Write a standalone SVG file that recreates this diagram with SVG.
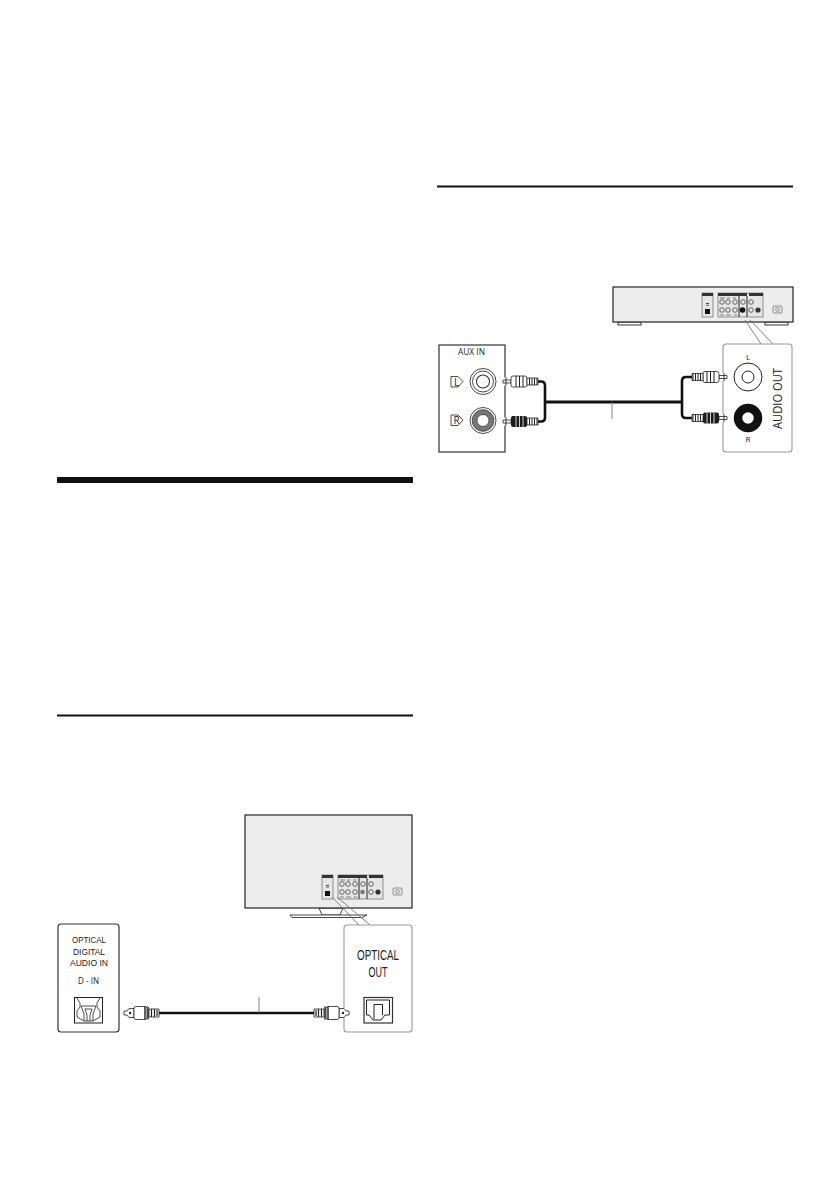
<svg xmlns="http://www.w3.org/2000/svg" xmlns:xlink="http://www.w3.org/1999/xlink" width="840" height="1192" viewBox="0 0 840 1192">
<style>
text{font-family:"Open Sans","Noto Sans","Liberation Sans",sans-serif;fill:#1a1a1a;text-anchor:middle;opacity:.99}
.box{fill:#fff;stroke:#333;stroke-width:1.2}
.gbox{fill:#fff;stroke:#999;stroke-width:1.1}
.body{fill:#ededed;stroke:#222;stroke-width:1.2}
.cable{fill:none;stroke:#111;stroke-width:2.6;stroke-linejoin:round}
.lead{fill:none;stroke:#777;stroke-width:.9}
.thin{fill:none;stroke:#222;stroke-width:.8}
.pl{fill:#fff;stroke:#222;stroke-width:.8}
.pan{fill:#e6e6e6;stroke:#555;stroke-width:.6}
.jack{fill:none;stroke:#444;stroke-width:.8}
.tight{font-family:"Liberation Sans","Open Sans",sans-serif}
</style>
<defs>
<g id="panels">
<rect class="pan" x="322" y="875" width="11" height="24"/>
<rect x="322" y="875" width="11" height="3" fill="#333"/>
<rect x="325" y="891" width="5" height="5" fill="#111"/>
<rect x="326" y="885" width="3" height="1.200" fill="#444"/>
<rect x="326" y="887" width="3" height="1" fill="#888"/>
<rect class="pan" x="338" y="875" width="45" height="24"/>
<rect x="338" y="875" width="29" height="3" fill="#333"/>
<rect x="369" y="875" width="14" height="3" fill="#333"/>
<g class="jack"><circle cx="342" cy="884" r="2.300"/><circle cx="348" cy="884" r="2.300"/><circle cx="355" cy="884" r="2.300"/><circle cx="342" cy="892" r="2.300"/><circle cx="348" cy="892" r="2.300"/><circle cx="355" cy="892" r="2.300"/><circle cx="363" cy="884" r="2.300"/><circle cx="371" cy="884" r="2.300"/><circle cx="371" cy="892" r="2.300"/></g>
<circle cx="378" cy="892" r="2.600" fill="#333"/>
<path d="M359 878V899M367 878V899" stroke="#111" stroke-width=".9"/>
<path d="M340 880H345M347 880H350M353 880H356M340 897H344M346 897H351M354 897H357" stroke="#555" stroke-width=".7"/>
<rect class="pan" x="393" y="888" width="9" height="7" rx="1"/>
<circle cx="397.500" cy="891.500" r="1.800" fill="none" stroke="#555" stroke-width=".6"/>
</g>
<g id="rca">
<rect x="-2" y="-4" width="7" height="8" fill="#fff"/>
<path class="pl" d="M0-1.500H8V1.500H0Z"/>
<path d="M3-4V4" stroke="#222" stroke-width=".9"/>
<rect class="pl" x="8" y="-5.500" width="16" height="11" rx="2"/>
<path d="M13-5.500V5.500M16.500-5.500V5.500M20-5.500V5.500" stroke="#222" stroke-width="1"/>
<path class="pl" d="M24-3.500H35V3.500H24Z"/>
<path d="M26.500-3.500V3.500M29-3.500V3.500M31.500-3.500V3.500M34-3.500V3.500" stroke="#222" stroke-width="1"/>
</g>
<g id="rcab">
<rect x="-2" y="-4" width="7" height="8" fill="#fff"/>
<path class="pl" d="M0-1.500H8V1.500H0Z"/>
<path d="M3-4V4" stroke="#222" stroke-width=".9"/>
<rect x="8" y="-5.500" width="16" height="11" rx="2" fill="#1c1c1c"/>
<path d="M13-5.500V5.500M16.500-5.500V5.500M20-5.500V5.500" stroke="#fff" stroke-width=".8"/>
<path class="pl" d="M24-3.500H35V3.500H24Z"/>
<path d="M26.500-3.500V3.500M29-3.500V3.500M31.500-3.500V3.500M34-3.500V3.500" stroke="#222" stroke-width="1"/>
</g>
<g id="optplug">
<rect x="-2" y="-5" width="9" height="10" fill="#fff"/>
<path class="pl" d="M0-2H3L5-4.500H10V4.500H5L3 2H0Z"/>
<circle cx="6" cy="0" r="1.200" fill="#222"/>
<rect class="pl" x="10" y="-6.500" width="13" height="13" rx="2"/>
<path d="M21-6.500V6.500M24-6.500V6.500" stroke="#222" stroke-width="1.400"/>
<path class="pl" d="M25-4H35V4H25Z"/>
<path d="M27.500-4V4M30.500-4V4M33-3V3" stroke="#222" stroke-width="1.200"/>
</g>
</defs>

<rect width="840" height="1192" fill="#fff"/>
<rect id="rule-heavy" x="57" y="477" width="356" height="6" fill="#111"/>
<rect id="rule-left" x="57" y="714.500" width="356" height="2" fill="#111"/>
<rect id="rule-right" x="437" y="185.500" width="356" height="2" fill="#111"/>

<g id="player">
<rect x="618" y="322" width="23" height="3" fill="#fff" stroke="#222" stroke-width=".9"/>
<rect x="765" y="322" width="23" height="3" fill="#fff" stroke="#222" stroke-width=".9"/>
<rect class="body" x="613" y="287" width="180" height="35"/>
<use href="#panels" xlink:href="#panels" transform="translate(380,-582)"/>
<circle cx="742.500" cy="310" r="2.800" fill="#111"/>
</g>

<g id="tv">
<path d="M319 908H343L340 915H322Z" fill="#fff" stroke="#333" stroke-width=".9"/>
<path d="M290 915H367L362 917.500H292Z" fill="#fff" stroke="#333" stroke-width=".9"/>
<rect class="body" x="245" y="815" width="167" height="93"/>
<use href="#panels" xlink:href="#panels"/>
<circle cx="362.500" cy="892" r="2.300" fill="#777"/>
</g>

<g id="connectors">
<path class="lead" d="M745 320 761 344M750 320 773 344"/>
<path class="lead" d="M332 897 359 925M337 897 370 925"/>
<path class="cable" style="stroke-width:3.200" d="M545 402H682"/>
<path class="cable" d="M537 381.500H541Q545 381.500 545 385.500V417.500Q545 421.500 541 421.500H537"/>
<path class="cable" d="M693 377H686Q682 377 682 381V414Q682 418 686 418H693"/>
<path class="lead" d="M612 402V419"/>
<path class="cable" d="M157 1013H316"/>
<path class="lead" d="M259 997V1013"/>
</g>

<g id="aux-in">
<rect class="box" x="439" y="345" width="66" height="107"/>
<text x="471.500" y="355" font-size="9" textLength="27" lengthAdjust="spacingAndGlyphs">AUX IN</text>
<path class="thin" d="M451 376.500H458L463 381.500L458 387H451Z"/>
<text x="456.500" y="385.500" font-size="10">L</text>
<circle cx="483" cy="381.500" r="13" fill="none" stroke="#333" stroke-width=".9"/>
<circle cx="483" cy="381.500" r="10.500" fill="none" stroke="#333" stroke-width=".9"/>
<circle cx="483" cy="381.500" r="6.500" fill="none" stroke="#333" stroke-width="1.100"/>
<path class="thin" d="M451 415H458L463 420L458 425.500H451Z"/>
<text x="456.500" y="424" font-size="10">R</text>
<circle cx="483" cy="420.500" r="13" fill="none" stroke="#333" stroke-width=".9"/>
<circle cx="483" cy="420.500" r="8.500" fill="none" stroke="#777" stroke-width="4.500"/>
<circle cx="483" cy="420.500" r="10.800" fill="none" stroke="#333" stroke-width=".8"/>
<circle cx="483" cy="420.500" r="6" fill="#fff" stroke="#333" stroke-width=".9"/>
<use href="#rca" xlink:href="#rca" transform="translate(503,381.500)"/>
<use href="#rcab" xlink:href="#rcab" transform="translate(503,421.500)"/>
</g>

<g id="audio-out">
<rect class="gbox" x="723" y="344" width="69" height="108" rx="3"/>
<text x="748" y="360" font-size="8">L</text>
<text x="748" y="442" font-size="8">R</text>
<text transform="translate(782,398.500) rotate(-90)" font-size="13.500" textLength="61" lengthAdjust="spacingAndGlyphs">AUDIO OUT</text>
<circle cx="748" cy="377" r="14" fill="none" stroke="#222" stroke-width="1"/>
<circle cx="748" cy="377" r="6" fill="none" stroke="#222" stroke-width="1"/>
<circle cx="748" cy="418" r="10" fill="#fff" stroke="#111" stroke-width="8.500"/>
<use href="#rca" xlink:href="#rca" transform="translate(727,377) scale(-1,1)"/>
<use href="#rcab" xlink:href="#rcab" transform="translate(727,418) scale(-1,1)"/>
</g>

<g id="d-in">
<rect class="box" x="58" y="924" width="61" height="108" rx="3"/>
<g font-size="8.800">
<text class="tight" x="89" y="943" textLength="34" lengthAdjust="spacingAndGlyphs">OPTICAL</text>
<text class="tight" x="89" y="955" textLength="32" lengthAdjust="spacingAndGlyphs">DIGITAL</text>
<text class="tight" x="89" y="966" textLength="38" lengthAdjust="spacingAndGlyphs">AUDIO IN</text>
<text x="88.500" y="984" textLength="21" lengthAdjust="spacingAndGlyphs">D - IN</text>
</g>
<rect class="thin" x="74.500" y="997.500" width="28" height="25.500" style="stroke-width:1"/>
<path class="thin" d="M77 998L80 1003V1007L77 1011V1017L84 1021H93L100 1017V1011L97 1007V1003L100 998" />
<path class="thin" d="M84 1021V1014L81 1006H96L93 1014V1021" />
<path class="thin" d="M87 1021V1015L85 1009H92L90 1015V1021" />
<use href="#optplug" xlink:href="#optplug" transform="translate(124,1013)"/>
</g>

<g id="optical-out">
<rect class="gbox" x="344" y="925" width="68" height="107" rx="3"/>
<text class="tight" x="378" y="959.500" font-size="14.500" textLength="42" lengthAdjust="spacingAndGlyphs">OPTICAL</text>
<text class="tight" x="378" y="977" font-size="14.500" textLength="19" lengthAdjust="spacingAndGlyphs">OUT</text>
<rect class="box" x="364" y="997.500" width="28.500" height="25.500" style="stroke-width:1.200"/>
<path class="thin" d="M366.500 1000H389.500V1015H385L381 1020H373L369 1015H366.500Z" style="stroke-width:1"/>
<path class="thin" d="M374 1019V1004.500H382.500V1015" style="stroke-width:1"/>
<use href="#optplug" xlink:href="#optplug" transform="translate(349,1013) scale(-1,1)"/>
</g>
</svg>
